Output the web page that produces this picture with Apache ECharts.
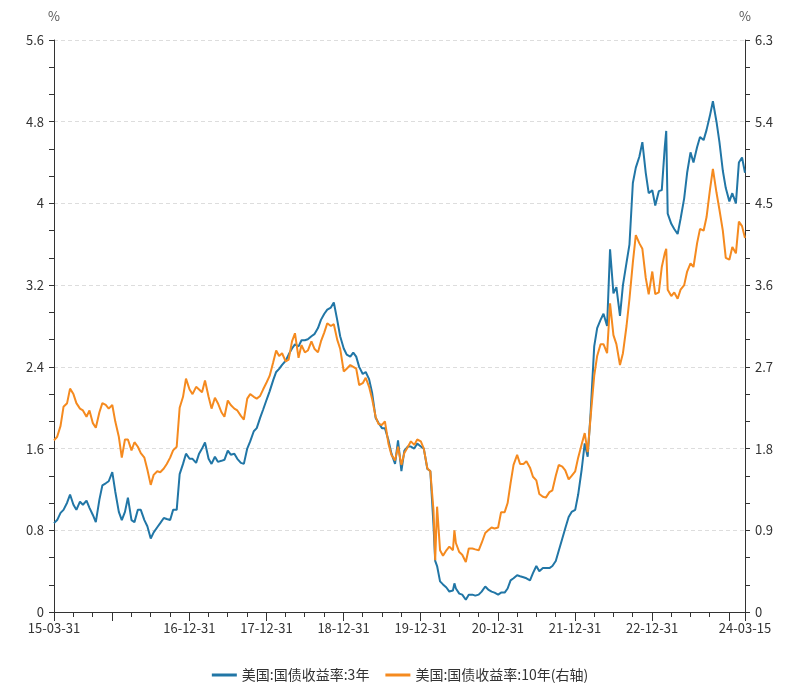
<!DOCTYPE html>
<html><head><meta charset="utf-8">
<script src="https://cdn.jsdelivr.net/npm/echarts@6/dist/echarts.min.js"></script>
<style>html,body{margin:0;padding:0;background:#fff}#c{width:800px;height:697px}</style>
</head><body><div id="c"></div>
<script>
const dates = [
'2015-03-31','2015-04-15','2015-05-01','2015-05-15','2015-06-01','2015-06-15','2015-07-01','2015-07-15','2015-08-01','2015-08-15','2015-09-01','2015-09-15','2015-10-01','2015-10-15','2015-11-01','2015-11-15','2015-12-01','2015-12-15',
'2016-01-01','2016-01-15','2016-02-01','2016-02-15','2016-03-01','2016-03-15','2016-04-01','2016-04-15','2016-05-01','2016-05-15','2016-06-01','2016-06-15','2016-07-01','2016-07-15','2016-08-01','2016-08-15','2016-09-01','2016-09-15','2016-10-01','2016-10-15','2016-11-01','2016-11-15','2016-12-01','2016-12-15',
'2017-01-01','2017-01-15','2017-02-01','2017-02-15','2017-03-01','2017-03-15','2017-04-01','2017-04-15','2017-05-01','2017-05-15','2017-06-01','2017-06-15','2017-07-01','2017-07-15','2017-08-01','2017-08-15','2017-09-01','2017-09-15','2017-10-01','2017-10-15','2017-11-01','2017-11-15','2017-12-01','2017-12-15',
'2018-01-01','2018-01-15','2018-02-01','2018-02-15','2018-03-01','2018-03-15','2018-04-01','2018-04-15','2018-05-01','2018-05-15','2018-06-01','2018-06-15','2018-07-01','2018-07-15','2018-08-01','2018-08-15','2018-09-01','2018-09-15','2018-10-01','2018-10-15','2018-11-01','2018-11-15','2018-12-01','2018-12-15',
'2019-01-01','2019-01-15','2019-02-01','2019-02-15','2019-03-01','2019-03-15','2019-04-01','2019-04-15','2019-05-01','2019-05-15','2019-06-01','2019-06-15','2019-07-01','2019-07-15','2019-08-01','2019-08-15','2019-09-01','2019-09-15','2019-10-01','2019-10-15','2019-11-01','2019-11-15','2019-12-01','2019-12-15',
'2020-01-01','2020-01-15','2020-02-01','2020-02-15','2020-03-01','2020-03-09','2020-03-18','2020-04-01','2020-04-15','2020-05-01','2020-05-15','2020-06-01','2020-06-08','2020-06-15','2020-07-01','2020-07-15','2020-08-01','2020-08-15','2020-09-01','2020-09-15','2020-10-01','2020-10-15','2020-11-01','2020-11-15','2020-12-01','2020-12-15',
'2021-01-01','2021-01-15','2021-02-01','2021-02-15','2021-03-01','2021-03-15','2021-04-01','2021-04-15','2021-05-01','2021-05-15','2021-06-01','2021-06-15','2021-07-01','2021-07-15','2021-08-01','2021-08-15','2021-09-01','2021-09-15','2021-10-01','2021-10-15','2021-11-01','2021-11-15','2021-12-01','2021-12-15',
'2022-01-01','2022-01-15','2022-02-01','2022-02-15','2022-03-01','2022-03-15','2022-04-01','2022-04-15','2022-05-01','2022-05-15','2022-06-01','2022-06-15','2022-07-01','2022-07-15','2022-08-01','2022-08-15','2022-09-01','2022-09-15','2022-10-01','2022-10-15','2022-11-01','2022-11-15','2022-12-01','2022-12-15',
'2023-01-01','2023-01-15','2023-02-01','2023-02-15','2023-03-01','2023-03-08','2023-03-15','2023-04-01','2023-04-15','2023-05-01','2023-05-15','2023-06-01','2023-06-15','2023-07-01','2023-07-15','2023-08-01','2023-08-15','2023-09-01','2023-09-15','2023-10-01','2023-10-15','2023-11-01','2023-11-15','2023-12-01','2023-12-15',
'2024-01-01','2024-01-15','2024-02-01','2024-02-15','2024-03-01','2024-03-15'
];
const y3 = [
0.87,0.90,0.97,1.00,1.07,1.15,1.05,1.00,1.08,1.05,1.09,1.02,0.95,0.88,1.10,1.24,1.26,1.28,
1.37,1.18,0.98,0.90,0.98,1.12,0.90,0.88,1.00,1.00,0.90,0.84,0.72,0.78,0.83,0.87,0.92,0.91,0.90,1.00,1.00,1.35,1.45,1.55,
1.50,1.50,1.46,1.55,1.60,1.66,1.50,1.45,1.52,1.47,1.48,1.49,1.58,1.54,1.55,1.50,1.46,1.45,1.60,1.67,1.77,1.80,1.90,1.98,
2.08,2.16,2.27,2.35,2.38,2.42,2.46,2.52,2.58,2.62,2.60,2.66,2.66,2.67,2.70,2.72,2.78,2.86,2.92,2.96,2.98,3.03,2.86,2.70,
2.58,2.52,2.50,2.54,2.50,2.40,2.33,2.35,2.28,2.15,1.90,1.85,1.80,1.80,1.68,1.55,1.45,1.68,1.38,1.58,1.62,1.62,1.60,1.65,
1.62,1.60,1.40,1.38,0.85,0.50,0.45,0.30,0.27,0.24,0.20,0.21,0.28,0.23,0.18,0.17,0.12,0.17,0.17,0.16,0.17,0.20,0.25,0.22,0.20,0.19,
0.17,0.19,0.19,0.23,0.31,0.33,0.36,0.35,0.34,0.33,0.31,0.38,0.45,0.40,0.43,0.43,0.43,0.45,0.50,0.60,0.72,0.82,0.93,0.98,
1.00,1.15,1.40,1.65,1.52,1.95,2.60,2.78,2.86,2.92,2.80,3.55,3.12,3.18,2.90,3.20,3.42,3.60,4.20,4.35,4.46,4.60,4.30,4.10,
4.13,3.98,4.12,4.13,4.55,4.71,3.90,3.80,3.75,3.70,3.85,4.05,4.30,4.50,4.40,4.55,4.65,4.62,4.72,4.86,5.00,4.80,4.60,4.32,4.15,
4.02,4.10,4.00,4.40,4.45,4.30
];
const y10 = [
1.89,1.93,2.05,2.26,2.30,2.46,2.40,2.30,2.24,2.22,2.15,2.22,2.08,2.03,2.20,2.30,2.28,2.24,
2.28,2.10,1.93,1.70,1.90,1.90,1.78,1.87,1.82,1.75,1.70,1.57,1.40,1.51,1.55,1.54,1.58,1.63,1.70,1.78,1.82,2.25,2.37,2.57,
2.45,2.40,2.48,2.45,2.42,2.55,2.37,2.24,2.36,2.30,2.20,2.15,2.33,2.28,2.24,2.22,2.16,2.12,2.35,2.40,2.37,2.35,2.38,2.45,
2.53,2.60,2.75,2.88,2.82,2.85,2.76,2.78,2.98,3.07,2.80,2.94,2.86,2.88,2.98,2.90,2.86,2.98,3.08,3.18,3.15,3.17,3.00,2.90,
2.65,2.68,2.72,2.70,2.68,2.50,2.52,2.58,2.48,2.35,2.15,2.07,2.06,2.10,1.85,1.73,1.67,1.82,1.62,1.75,1.82,1.88,1.84,1.90,
1.88,1.80,1.58,1.55,1.12,0.57,1.16,0.68,0.62,0.68,0.72,0.68,0.90,0.76,0.66,0.63,0.55,0.70,0.70,0.69,0.68,0.76,0.87,0.90,0.93,0.92,
0.93,1.10,1.10,1.20,1.42,1.62,1.73,1.63,1.63,1.66,1.59,1.49,1.45,1.30,1.27,1.26,1.32,1.34,1.50,1.62,1.60,1.56,1.46,1.50,
1.55,1.70,1.85,1.97,1.76,2.15,2.60,2.82,2.95,2.95,2.85,3.40,3.05,2.95,2.72,2.85,3.15,3.45,3.85,4.15,4.06,4.00,3.68,3.50,
3.75,3.50,3.52,3.80,3.95,4.00,3.55,3.48,3.52,3.45,3.55,3.60,3.75,3.84,3.80,4.06,4.22,4.20,4.35,4.65,4.88,4.62,4.43,4.20,3.90,
3.88,4.02,3.95,4.30,4.25,4.12
];
const seriesNames = ['美国:国债收益率:3年', '美国:国债收益率:10年(右轴)'];
const xLabelDates = ['2015-03-31','2016-12-31','2017-12-31','2018-12-31','2019-12-31','2020-12-31','2021-12-31','2022-12-31','2024-03-15'];
const xMajorTickDates = ['2015-03-31','2015-12-31','2016-12-31','2017-12-31','2018-12-31','2019-12-31','2020-12-31','2021-12-31','2022-12-31','2023-12-31','2024-03-15'];
const leftLabels = [0, 0.8, 1.6, 2.4, 3.2, 4, 4.8, 5.6];
const rightLabels = [0, 0.9, 1.8, 2.7, 3.6, 4.5, 5.4, 6.3];

const ts = s => echarts.number.parseDate(s).getTime();
const xMin = ts('2015-03-31'), xMax = ts('2024-03-15');
const quarterTicks = [];
for (let y = 2015; y <= 2023; y++) {
  ['-03-31','-06-30','-09-30','-12-31'].forEach(md => { const t = ts(y + md); if (t >= xMin && t <= xMax) quarterTicks.push(t); });
}
quarterTicks.push(xMax);
const leftTicks = [], rightTicks = [];
for (let i = 0; i <= 21; i++) { leftTicks.push(+(5.6 * i / 21).toFixed(4)); rightTicks.push(+(6.3 * i / 21).toFixed(4)); }

const font = '"Noto Sans CJK SC", "Noto Sans", sans-serif';
const axisColor = '#333';
const pad2 = n => (n < 10 ? '0' : '') + n;
const fmtDate = v => { const d = new Date(v); return pad2(d.getFullYear() % 100) + '-' + pad2(d.getMonth() + 1) + '-' + pad2(d.getDate()); };
const fmtNum = v => String(+(+v).toFixed(1));

const chart = echarts.init(document.getElementById('c'), null, {renderer: 'canvas'});
chart.setOption({
  animation: false,
  textStyle: {fontFamily: font},
  color: ['#2176a6', '#f58a1f'],
  grid: {left: 54, right: 55, top: 40, bottom: 85, containLabel: false},
  legend: {
    bottom: 10, left: 'center', icon: 'rect', itemWidth: 25, itemHeight: 3, itemGap: 16,
    textStyle: {fontSize: 14, color: '#333', fontFamily: font},
    data: seriesNames
  },
  xAxis: [{
    type: 'value', min: xMin, max: xMax, scale: true,
    axisLine: {show: true, onZero: false, lineStyle: {color: axisColor, width: 1}},
    axisTick: {show: true, length: 5, customValues: quarterTicks, lineStyle: {color: axisColor}},
    axisLabel: {show: false},
    splitLine: {show: false}
  }, {
    type: 'value', min: xMin, max: xMax, scale: true, position: 'bottom',
    axisLine: {show: false, onZero: false},
    axisTick: {show: true, length: 9, customValues: xMajorTickDates.map(ts), lineStyle: {color: axisColor}},
    axisLabel: {
      show: true, margin: 10, color: '#333', fontSize: 13, fontFamily: font,
      customValues: xLabelDates.map(ts),
      formatter: v => fmtDate(v)
    },
    splitLine: {show: false}
  }],
  yAxis: [{
    type: 'value', min: 0, max: 5.6, interval: 0.8, position: 'left',
    name: '%', nameLocation: 'end', nameGap: 17,
    nameTextStyle: {color: '#555', fontSize: 13, align: 'center'},
    axisLine: {show: true, lineStyle: {color: axisColor}},
    axisTick: {show: true, length: 5, customValues: leftTicks, lineStyle: {color: axisColor}},
    axisLabel: {color: '#333', fontSize: 13, margin: 10, customValues: leftLabels, formatter: fmtNum},
    splitLine: {show: false}
  }, {
    type: 'value', min: 0, max: 6.3, interval: 0.9, position: 'right',
    name: '%', nameLocation: 'end', nameGap: 17,
    nameTextStyle: {color: '#555', fontSize: 13, align: 'center'},
    axisLine: {show: true, lineStyle: {color: axisColor}},
    axisTick: {show: true, length: 5, customValues: rightTicks, lineStyle: {color: axisColor}},
    axisLabel: {color: '#333', fontSize: 13, margin: 10, customValues: rightLabels, formatter: fmtNum},
    splitLine: {show: false}
  }, {
    type: 'value', min: 0, max: 5.6, interval: 0.8, position: 'left',
    axisLine: {show: false}, axisTick: {show: false}, axisLabel: {show: false},
    splitLine: {show: true, lineStyle: {color: '#dddddd', type: [4, 3]}}
  }],
  series: [{
    name: seriesNames[0], type: 'line', xAxisIndex: 0, yAxisIndex: 0,
    symbol: 'none', lineStyle: {width: 2},
    data: dates.map((d, i) => [ts(d), y3[i]])
  }, {
    name: seriesNames[1], type: 'line', xAxisIndex: 0, yAxisIndex: 1,
    symbol: 'none', lineStyle: {width: 2},
    data: dates.map((d, i) => [ts(d), y10[i]])
  }]
});
</script></body></html>
